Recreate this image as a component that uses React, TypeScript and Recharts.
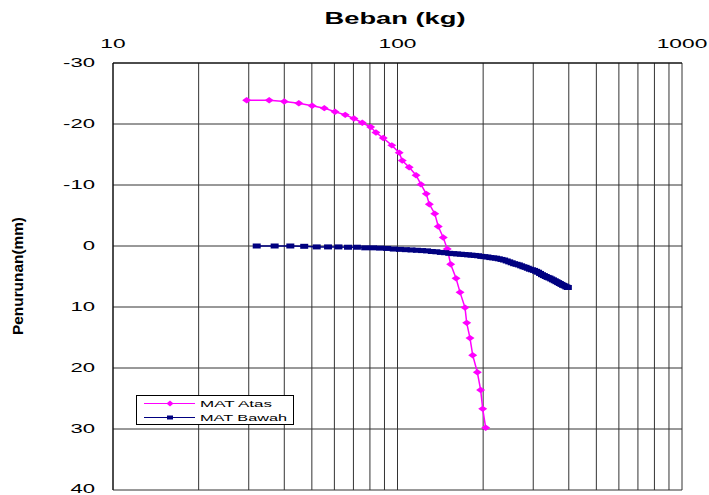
import React from "react"
import { LineChart, Line, XAxis, YAxis, CartesianGrid } from "recharts"

// data: load (kg) and settlement (mm)
const atasLoad = [
  29.5, 35.4, 40.0, 45.0, 50.1, 55.3, 60.3, 65.5, 70.3, 75.2, 80.5, 84.0, 89.1, 95.5, 101.4, 103.9, 109.9, 116.2,
  120.9, 126.2, 129.4, 135.2, 139.1, 144.8, 149.6, 153.8, 160.6, 165.9, 172.7, 175.1, 179.8, 183.8, 190.8, 196.0,
  199.3, 204.2,
]
const atasDefl = [
  -23.9, -23.9, -23.7, -23.4, -23.0, -22.6, -22.0, -21.5, -20.9, -20.2, -19.5, -18.6, -17.7, -16.5, -15.3, -14.0,
  -12.9, -11.6, -10.1, -8.55, -6.85, -5.3, -3.2, -1.4, 0.5, 3.0, 5.3, 7.6, 10.1, 12.6, 15.1, 17.9, 20.7, 23.6, 26.7,
  29.8,
]
const bawahLoad = [
  32, 37, 42, 47, 52, 57, 62, 67, 72, 77, 82, 87, 92, 97, 102, 107, 112, 117, 122, 127, 132, 137, 142, 147, 152, 157,
  162, 167, 172, 177, 182, 187, 192, 197, 202, 207, 212, 217, 222, 227, 232, 237, 242, 247, 252, 257, 262, 267, 272,
  277, 282, 287, 292, 297, 302, 307, 312, 317, 322, 327, 332, 337, 342, 347, 352, 357, 362, 367, 372, 377, 382, 387,
  392, 397,
]
const bawahDefl = [
  0.0, 0.0, 0.0, 0.05, 0.15, 0.15, 0.15, 0.2, 0.2, 0.3, 0.3, 0.35, 0.4, 0.5, 0.55, 0.6, 0.65, 0.7, 0.75, 0.8, 0.9,
  0.95, 1.05, 1.1, 1.2, 1.25, 1.3, 1.35, 1.4, 1.45, 1.5, 1.55, 1.6, 1.7, 1.75, 1.8, 1.9, 1.95, 2.0, 2.1, 2.2, 2.3,
  2.45, 2.6, 2.75, 2.9, 3.0, 3.1, 3.25, 3.4, 3.5, 3.65, 3.8, 3.9, 4.0, 4.15, 4.3, 4.5, 4.7, 4.85, 5.0, 5.15, 5.25,
  5.4, 5.55, 5.7, 5.85, 6.0, 6.15, 6.3, 6.45, 6.55, 6.7, 6.8,
]

const xTicks = [10, 20, 30, 40, 50, 60, 70, 80, 90, 100, 200, 300, 400, 500, 600, 700, 800, 900, 1000]
const xLabels = [10, 100, 1000]
const yTicks = [-30, -20, -10, 0, 10, 20, 30, 40]

const atas = atasLoad.map((x, i) => ({ x, y: atasDefl[i] }))
const bawah = bawahLoad.map((x, i) => ({ x, y: bawahDefl[i] }))

const FONT = "'Liberation Sans', Arial, sans-serif"
const MAGENTA = "#ff00ff"
const NAVY = "#000080"

const XTick = (props: any) => {
  const { x, payload } = props
  if (!xLabels.includes(payload.value)) return null
  return (
    <text transform={`translate(${x},48) scale(1.75,1)`} textAnchor="middle" fontSize={13} fontFamily={FONT} fill="#000">
      {payload.value}
    </text>
  )
}

const YTick = (props: any) => {
  const { y, payload } = props
  // bottom label sits a touch higher so it stays inside the frame
  const dy = payload.value === 40 ? 2.5 : 4.3
  return (
    <text transform={`translate(95,${y + dy}) scale(1.7,1)`} textAnchor="end" fontSize={13} fontFamily={FONT} fill="#000">
      {payload.value}
    </text>
  )
}

const Diamond = (props: any) => {
  const { cx, cy, index } = props
  if (cx == null || cy == null) return null
  return (
    <polygon
      key={`a-${index}`}
      points={`${cx - 4.5},${cy} ${cx},${cy - 3.2} ${cx + 4.5},${cy} ${cx},${cy + 3.2}`}
      fill={MAGENTA}
    />
  )
}

const Square = (props: any) => {
  const { cx, cy, index } = props
  if (cx == null || cy == null) return null
  return <rect key={`b-${index}`} x={cx - 4} y={cy - 2.5} width={8} height={5} fill={NAVY} />
}

export default function App() {
  return (
    <div style={{ position: "absolute", left: 0, top: 0, width: 709, height: 495, background: "#fff" }}>
      <LineChart width={709} height={495} margin={{ top: 33, right: 27, bottom: 5, left: 73 }}>
        <CartesianGrid stroke="#333" strokeWidth={1} />
        <XAxis
          dataKey="x"
          type="number"
          scale="log"
          domain={[10, 1000]}
          ticks={xTicks}
          orientation="top"
          height={30}
          allowDataOverflow
          tickLine={false}
          axisLine={{ stroke: "#000" }}
          tick={<XTick />}
          interval={0}
        />
        <YAxis
          type="number"
          domain={[-30, 40]}
          ticks={yTicks}
          reversed
          width={40}
          tickLine={false}
          axisLine={{ stroke: "#000" }}
          tick={<YTick />}
          interval={0}
        />
        <Line
          data={atas}
          dataKey="y"
          stroke={MAGENTA}
          strokeWidth={1.5}
          dot={Diamond}
          activeDot={false}
          isAnimationActive={false}
        />
        <Line
          data={bawah}
          dataKey="y"
          stroke={NAVY}
          strokeWidth={1.5}
          dot={Square}
          activeDot={false}
          isAnimationActive={false}
        />
      </LineChart>
      <svg width={709} height={495} style={{ position: "absolute", left: 0, top: 0, pointerEvents: "none" }}>
        <text
          x={395}
          y={24}
          textAnchor="middle"
          fontSize={16.5}
          fontWeight="bold"
          fontFamily={FONT}
          textLength={141}
          lengthAdjust="spacingAndGlyphs"
        >
          Beban (kg)
        </text>
        <text
          transform="translate(23,276) rotate(-90) scale(1,1.05)"
          textAnchor="middle"
          fontSize={14}
          fontWeight="bold"
          fontFamily={FONT}
          textLength={118}
          lengthAdjust="spacingAndGlyphs"
        >
          Penurunan(mm)
        </text>
        <rect x={136.5} y={395.5} width={157} height={29} fill="#fff" stroke="#000" strokeWidth={1} />
        <line x1={144} y1={403.5} x2={195} y2={403.5} stroke={MAGENTA} strokeWidth={1} />
        <polygon points="166.5,403.5 170,400.5 173.5,403.5 170,406.5" fill={MAGENTA} />
        <text x={200} y={407} fontSize={9.5} fontFamily={FONT} textLength={72} lengthAdjust="spacingAndGlyphs">
          MAT Atas
        </text>
        <line x1={144} y1={417.5} x2={195} y2={417.5} stroke={NAVY} strokeWidth={1} />
        <rect x={167} y={415.5} width={6} height={4} fill={NAVY} />
        <text x={200} y={421} fontSize={9.5} fontFamily={FONT} textLength={87} lengthAdjust="spacingAndGlyphs">
          MAT Bawah
        </text>
      </svg>
    </div>
  )
}
